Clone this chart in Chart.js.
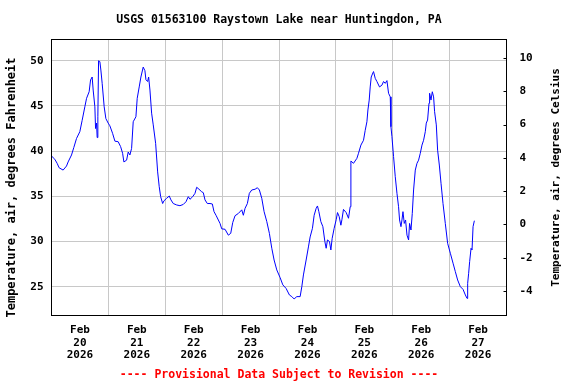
<!DOCTYPE html>
<html><head><meta charset="utf-8">
<script src="https://cdn.jsdelivr.net/npm/chart.js@4/dist/chart.umd.min.js"></script>
<style>html,body{margin:0;padding:0;background:#fff}#wrap{width:576px;height:384px}</style>
</head><body><div id="wrap"><canvas id="c" width="576" height="384"></canvas></div>
<script>
const titleText = 'USGS 01563100 Raystown Lake near Huntingdon, PA';
const footerText = '---- Provisional Data Subject to Revision ----';
const leftAxisTitle = 'Temperature, air, degrees Fahrenheit';
const rightAxisTitle = 'Temperature, air, degrees Celsius';
const dayTickLabels = [['Feb','20','2026'],['Feb','21','2026'],['Feb','22','2026'],['Feb','23','2026'],['Feb','24','2026'],['Feb','25','2026'],['Feb','26','2026'],['Feb','27','2026']];
// hours since Feb 20 00:00
const hours = [0.0,1.39,2.37,3.21,4.90,6.34,7.01,8.45,9.42,10.56,11.96,12.93,14.07,14.79,15.89,16.48,17.16,17.58,18.30,18.59,19.01,19.27,19.56,19.86,20.41,20.83,21.38,22.23,22.94,23.92,24.63,25.77,26.75,28.14,29.16,30.00,30.55,31.69,32.37,33.08,33.80,34.48,35.62,36.17,37.01,37.73,38.70,39.42,39.85,40.56,40.99,41.54,42.25,42.93,43.94,44.79,45.46,46.06,46.90,47.45,48.59,49.69,50.41,51.38,52.82,54.21,55.61,56.75,57.72,58.44,59.58,60.55,61.27,62.24,63.38,64.06,64.78,65.75,66.89,67.86,68.58,69.42,71.11,71.83,73.23,74.62,75.63,76.48,77.45,78.85,80.28,80.96,81.68,82.65,83.49,84.51,85.90,86.87,87.72,88.73,89.71,90.85,91.94,92.96,93.93,95.07,96.47,97.61,99.00,100.40,101.41,102.38,103.52,104.92,105.63,106.31,107.45,108.42,109.14,110.11,110.83,111.68,112.23,112.82,113.66,114.51,115.35,115.90,116.45,117.30,117.89,118.44,119.28,120.13,120.68,121.40,122.11,122.54,123.21,124.35,125.33,126.04,126.34,127.44,128.87,129.55,130.57,131.66,132.38,133.10,133.52,134.07,134.49,134.92,135.64,135.89,136.61,137.32,138.42,139.44,140.12,140.83,141.55,142.23,142.95,143.24,143.66,144.34,145.06,145.78,146.45,146.88,147.47,147.89,148.31,148.86,149.41,150.01,150.68,151.10,151.69,152.24,152.79,153.51,154.23,154.90,155.62,156.34,157.01,157.73,158.15,158.70,159.30,159.55,160.14,160.69,161.24,161.66,162.38,162.93,163.65,164.37,165.21,166.18,167.16,168.30,169.44,170.41,171.38,172.52,173.66,174.64,175.35,175.61,176.03,176.45,177.04,177.46,177.89,178.44];
const tempF = [39.46,39.1,38.65,38.16,37.9,38.35,38.8,39.57,40.4,41.4,42.15,43.4,44.9,45.84,46.57,47.87,48.2,46.76,44.9,42.5,43.1,41.5,43.8,50.0,49.9,48.97,47.5,44.9,43.6,43.1,42.8,41.97,41.1,41.04,40.5,39.76,38.8,39.0,39.9,39.57,40.3,43.25,43.8,45.84,47.1,48.2,49.3,48.9,47.9,47.7,48.2,46.76,44.2,42.9,40.86,37.7,36.06,34.96,34.2,34.5,34.78,35.03,34.6,34.2,34.04,33.96,34.1,34.4,34.96,34.67,34.96,35.33,36.0,35.78,35.5,35.4,34.6,34.2,34.2,34.15,33.3,32.9,32.0,31.4,31.35,30.7,30.9,32.1,32.85,33.1,33.5,32.9,33.67,34.2,35.33,35.7,35.78,35.95,35.7,34.78,33.3,32.2,30.9,29.25,27.95,26.85,26.0,25.2,24.8,24.08,23.9,23.64,23.9,23.9,25.0,26.3,27.95,29.4,30.5,31.46,32.9,33.67,33.93,33.3,32.2,31.64,30.0,29.25,30.17,30.0,29.06,30.35,31.46,32.4,33.2,32.75,31.8,32.4,33.55,33.2,32.57,33.85,38.9,38.65,39.2,39.76,40.67,41.2,42.3,43.25,44.55,45.65,47.1,48.2,48.67,48.8,48.05,47.7,47.1,47.3,47.7,47.5,47.8,46.4,46.0,42.7,41.6,39.4,37.17,35.33,33.85,32.38,31.64,32.38,33.3,32.0,32.38,30.7,30.17,32.0,31.27,33.1,35.7,37.9,38.65,39.0,39.76,40.67,41.2,42.15,43.1,43.44,45.3,46.4,45.65,46.57,46.0,44.36,42.9,40.1,38.46,36.44,34.2,32.0,29.8,28.7,27.6,26.66,25.74,25.0,24.7,24.08,23.7,25.37,26.48,27.77,29.25,29.06,31.64,32.3];

const FONT = '"DejaVu Sans Mono", "Liberation Mono", monospace';
const points = hours.map((h, i) => ({x: h, y: tempF[i]}));

const decor = {
  id: 'decor',
  afterDraw(chart) {
    const ctx = chart.ctx, a = chart.chartArea;
    ctx.save();
    ctx.strokeStyle = '#000'; ctx.lineWidth = 1;
    ctx.strokeRect(a.left, a.top, a.right - a.left, a.bottom - a.top);
    const s = chart.scales.y2;
    ctx.beginPath();
    s.ticks.forEach(t => {
      const y = Math.round(s.getPixelForValue(t.value)) + 0.5;
      ctx.moveTo(a.right - 3, y); ctx.lineTo(a.right, y);
    });
    ctx.stroke();
    const cx = (a.left + a.right) / 2;
    ctx.textAlign = 'center'; ctx.textBaseline = 'middle';
    ctx.fillStyle = '#000';
    ctx.font = 'bold 11.5px ' + FONT;
    ctx.fillText(titleText, cx, 20);
    ctx.fillStyle = '#ff0000';
    ctx.fillText(footerText, cx, 375);
    ctx.fillStyle = '#000';
    ctx.font = 'bold 12px ' + FONT;
    ctx.save(); ctx.translate(12, 187.5); ctx.rotate(-Math.PI / 2); ctx.fillText(leftAxisTitle, 0, 0); ctx.restore();
    ctx.font = 'bold 11px ' + FONT;
    ctx.save(); ctx.translate(556, 177.5); ctx.rotate(-Math.PI / 2); ctx.fillText(rightAxisTitle, 0, 0); ctx.restore();
    ctx.restore();
  }
};

new Chart(document.getElementById('c'), {
  type: 'scatter',
  data: { datasets: [{ data: points, showLine: true, borderColor: '#0000ff', borderWidth: 1, pointRadius: 0, tension: 0, yAxisID: 'y' }] },
  options: {
    responsive: false, animation: false, devicePixelRatio: 1,
    layout: { padding: { top: 39.5, bottom: 20.5, left: 0, right: 0 } },
    plugins: { legend: { display: false }, tooltip: { enabled: false } },
    scales: {
      x: {
        type: 'linear', min: 0, max: 192,
        afterFit(s) { s.height = 48; },
        border: { display: false },
        grid: { drawTicks: false, color: c => (c.tick && c.tick.value % 24 === 0) ? '#c8c8c8' : 'rgba(0,0,0,0)' },
        ticks: {
          stepSize: 12, autoSkip: false, maxRotation: 0, padding: 8, color: '#000',
          font: { family: FONT, size: 11, weight: 'bold', lineHeight: 1.165 },
          callback: v => (v % 24 === 12) ? dayTickLabels[(v - 12) / 24] : ''
        }
      },
      y: {
        position: 'left', min: 21.81, max: 52.35,
        afterFit(s) { s.width = 51.5; },
        border: { display: false },
        grid: { drawTicks: false, color: c => (c.tick && Math.abs(c.tick.value % 5) < 1e-6) ? '#c8c8c8' : 'rgba(0,0,0,0)' },
        ticks: { stepSize: 5, includeBounds: false, padding: 8, color: '#000', font: { family: FONT, size: 11, weight: 'bold' },
          callback: v => (Math.abs(v % 5) < 1e-6) ? String(v) : '' }
      },
      y2: {
        position: 'right', min: -5.47, max: 11.11,
        afterFit(s) { s.width = 69.5; },
        border: { display: false },
        grid: { drawTicks: false, drawOnChartArea: false },
        ticks: { stepSize: 2, includeBounds: false, padding: 13, color: '#000', font: { family: FONT, size: 11, weight: 'bold' },
          callback: v => (Math.abs(v % 2) < 1e-6) ? String(v) : '' }
      }
    }
  },
  plugins: [decor]
});
</script></body></html>
